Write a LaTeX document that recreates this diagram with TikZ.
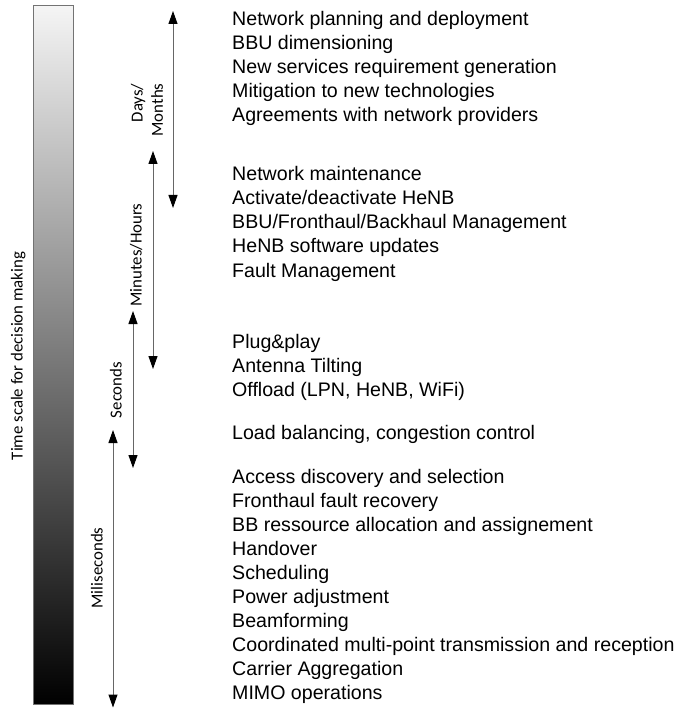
\documentclass[tikz,border=0pt]{standalone}
\usepackage{fontspec}
\setmainfont{Liberation Sans}
\newfontfamily\labelfont{Carlito}
\usetikzlibrary{arrows.meta}
\begin{document}
\begin{tikzpicture}[x=1pt, y=-1pt,
  tip/.tip={Triangle[length=13pt, width=9pt, color=black]},
  span/.style={draw=black!60, line width=1pt, tip-tip},
  item/.style={anchor=base west, inner sep=0pt, font=\fontsize{19.6}{24}\selectfont},
  scalelabel/.style={rotate=90, inner sep=0pt, font=\labelfont\fontsize{16.8}{20.2}\selectfont}]
\useasboundingbox (0,0) rectangle (680,708);

% time-scale bar, light at the top, dark at the bottom
\node (bar) [anchor=north west, inner sep=0pt, minimum width=40pt, minimum height=699pt,
  draw=black!55, line width=0.8pt, top color=black!4, bottom color=black] at (33,5) {};
\node (barlabel) [scalelabel, anchor=base] at (22.5,356) {Time scale for decision making};

% ranges of each time scale
\coordinate (dm-a) at (173,11);  \coordinate (dm-b) at (173,208);
\coordinate (mh-a) at (153,151); \coordinate (mh-b) at (153,369);
\coordinate (se-a) at (133,311); \coordinate (se-b) at (133,468);
\coordinate (ms-a) at (113,430); \coordinate (ms-b) at (113,707.5);
\draw[span] (dm-a) -- (dm-b);
\draw[span] (mh-a) -- (mh-b);
\draw[span] (se-a) -- (se-b);
\draw[span] (ms-a) -- (ms-b);

\node (dmlabel) [scalelabel, align=right] at (147,110) {Days/\\Months};
\node (mhlabel) [scalelabel, anchor=base] at (141.5,255) {Minutes/Hours};
\node (selabel) [scalelabel, anchor=base] at (121.5,390) {Seconds};
\node (mslabel) [scalelabel, anchor=base] at (102.5,568) {Miliseconds};

% decisions taken on each time scale
\foreach \t [count=\i] in {Network planning and deployment, BBU dimensioning,
  New services requirement generation, Mitigation to new technologies,
  Agreements with network providers}
  \node (days-\i) [item] at (232, 26+24*\i-24) {\t};

\foreach \t [count=\i] in {Network maintenance, Activate/deactivate HeNB,
  BBU/Fronthaul/Backhaul Management, HeNB software updates, Fault Management}
  \node (hours-\i) [item] at (232, 181+24*\i-24) {\t};

\foreach \t [count=\i] in {Plug\&play, Antenna Tilting, {Offload (LPN, HeNB, WiFi)}}
  \node (sec-\i) [item] at (232, 348+24*\i-24) {\t};

\node (sec-4) [item] at (232,439) {Load balancing, congestion control};

\foreach \t [count=\i] in {Access discovery and selection, Fronthaul fault recovery,
  BB ressource allocation and assignement, Handover, Scheduling, Power adjustment,
  Beamforming, Coordinated multi-point transmission and reception,
  Carrier Aggregation, MIMO operations}
  \node (ms-\i) [item] at (232, 483+24*\i-24) {\t};
\end{tikzpicture}
\end{document}
